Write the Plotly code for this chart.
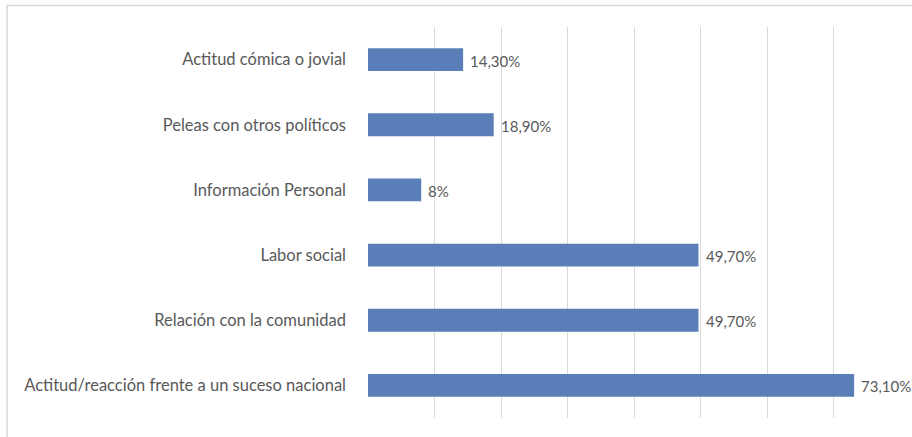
import plotly.graph_objects as go

# Categories listed bottom-to-top as they appear on the y axis
categories = [
    "Actitud/reacción frente a un suceso nacional",
    "Relación con la comunidad",
    "Labor social",
    "Información Personal",
    "Peleas con otros políticos",
    "Actitud cómica o jovial",
]
values = [73.1, 49.7, 49.7, 8.0, 18.9, 14.3]
value_labels = ["73,10%", "49,70%", "49,70%", "8%", "18,90%", "14,30%"]
x_ticks = [0, 10, 20, 30, 40, 50, 60, 70, 80]

BAR_COLOR = "#5a7fb8"
TEXT_COLOR = "#595959"
GRID_COLOR = "#d9d9d9"
FONT = "Lato, 'Open Sans', sans-serif"

W, H = 912, 437
ML, MR, MT, MB = 368, 12, 27, 19
PW, PH = W - ML - MR, H - MT - MB

fig = go.Figure(
    go.Bar(
        x=values,
        y=categories,
        orientation="h",
        width=0.35,
        marker=dict(color=BAR_COLOR, line=dict(width=0)),
        hoverinfo="skip",
    )
)

# Value labels just past the end of each bar
for cat, val, lab in zip(categories, values, value_labels):
    fig.add_annotation(
        x=val, y=cat, text=lab, showarrow=False,
        xanchor="left", yanchor="middle", xshift=5, yshift=-1,
        font=dict(family=FONT, size=15, color=TEXT_COLOR),
    )

# Light outer frame of the chart area (open to the right and bottom)
fig.add_shape(
    type="rect", xref="paper", yref="paper",
    x0=-(ML - 7) / PW, x1=1.2, y0=-0.2, y1=1 + (MT - 5.5) / PH,
    line=dict(color=GRID_COLOR, width=1.5), fillcolor="rgba(0,0,0,0)",
    layer="below",
)

fig.update_layout(
    width=W,
    height=H,
    margin=dict(l=ML, r=MR, t=MT, b=MB),
    paper_bgcolor="white",
    plot_bgcolor="white",
    showlegend=False,
    font=dict(family=FONT, size=16, color=TEXT_COLOR),
    xaxis=dict(
        range=[0, 80],
        tickvals=x_ticks,
        showticklabels=False,
        showgrid=True,
        gridcolor=GRID_COLOR,
        gridwidth=1,
        zeroline=False,
        showline=False,
        fixedrange=True,
    ),
    yaxis=dict(
        type="category",
        categoryorder="array",
        categoryarray=categories,
        range=[-0.5, 5.5],
        showgrid=False,
        zeroline=False,
        showline=False,
        ticks="",
        ticklabelstandoff=21,
        tickfont=dict(family=FONT, size=16.5, color=TEXT_COLOR),
        fixedrange=True,
    ),
)

fig.write_html("out.html")
